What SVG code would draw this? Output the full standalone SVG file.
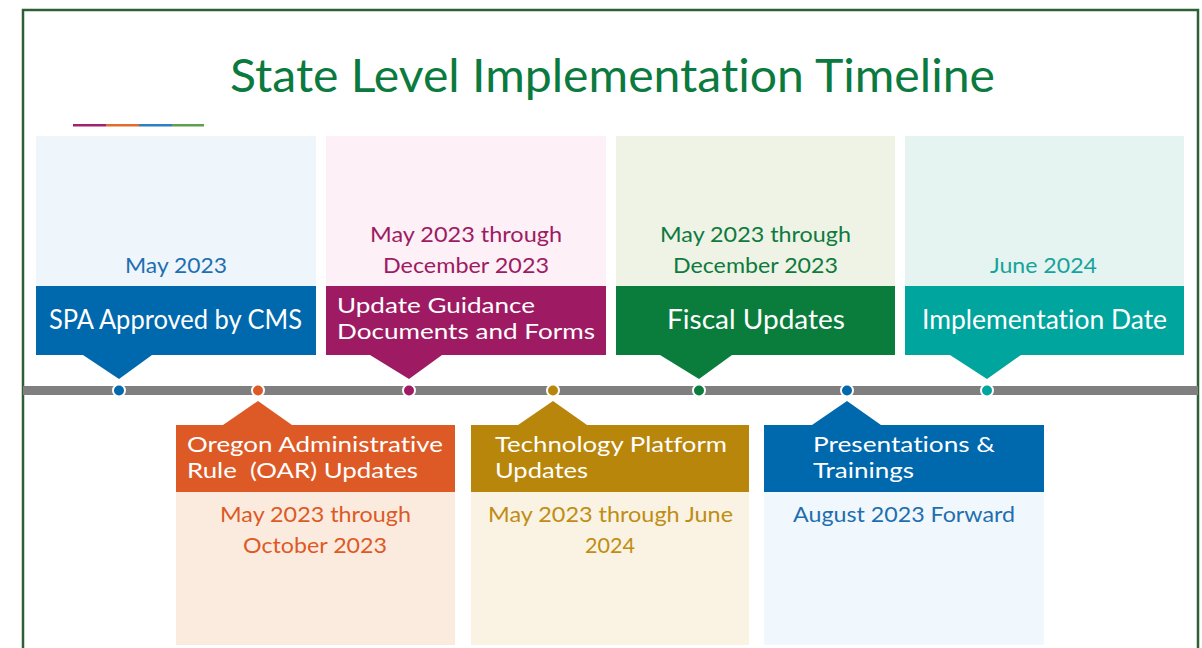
<svg xmlns="http://www.w3.org/2000/svg" width="1202" height="648" viewBox="0 0 1202 648">
<style>
text{font-family:Lato,"Open Sans","Liberation Sans",sans-serif;font-variant-ligatures:none}
.title{font-size:47px;fill:#0b7a3e}
.lbl{font-size:26px;fill:#ffffff}
.lbl2{font-size:21.5px;fill:#ffffff}
.date{font-size:22px}
.dot{stroke:#ffffff;stroke-width:2}
</style>
<rect x="0" y="0" width="1202" height="648" fill="#ffffff"/>
<rect x="23" y="10" width="1175" height="660" fill="none" stroke="#2f5f35" stroke-width="2.5"/>
<g id="title">
<text class="title" x="230" y="92" textLength="765" lengthAdjust="spacingAndGlyphs">State Level Implementation Timeline</text>
<rect x="73" y="124" width="33" height="2.5" fill="#a3236a"/>
<rect x="106" y="124" width="33" height="2.5" fill="#e06d2c"/>
<rect x="139" y="124" width="33" height="2.5" fill="#2f7fc3"/>
<rect x="172" y="124" width="32" height="2.5" fill="#5ea04e"/>
</g>
<g id="connectors">
<rect x="23" y="386" width="1175" height="9" fill="#7f7f7f"/>
<circle class="dot" cx="119" cy="390.5" r="6" fill="#0068ad"/>
<circle class="dot" cx="258" cy="390.5" r="6" fill="#dd5a26"/>
<circle class="dot" cx="409" cy="390.5" r="6" fill="#9e1b63"/>
<circle class="dot" cx="553" cy="390.5" r="6" fill="#b8860b"/>
<circle class="dot" cx="699" cy="390.5" r="6" fill="#0a7d3c"/>
<circle class="dot" cx="847" cy="390.5" r="6" fill="#0068ad"/>
<circle class="dot" cx="987" cy="390.5" r="6" fill="#00a59d"/>
</g>
<g id="node-spa">
<rect x="36" y="136" width="280" height="150" fill="#eef6fc"/>
<rect x="36" y="286" width="280" height="69" fill="#0068ad"/>
<polygon points="83,355 152,355 119,379" fill="#0068ad"/>
<text class="date" x="125" y="273" fill="#1f6fb0" textLength="102" lengthAdjust="spacingAndGlyphs">May 2023</text>
<text class="lbl" x="49" y="329" textLength="253" lengthAdjust="spacingAndGlyphs">SPA Approved by CMS</text>
</g>
<g id="node-guidance">
<rect x="326" y="136" width="280" height="150" fill="#fdf0f6"/>
<rect x="326" y="286" width="280" height="69" fill="#9e1b63"/>
<polygon points="370,355 442,355 409,379" fill="#9e1b63"/>
<text class="date" x="370" y="242" fill="#9e1b63" textLength="192" lengthAdjust="spacingAndGlyphs">May 2023 through</text>
<text class="date" x="383" y="273" fill="#9e1b63" textLength="166" lengthAdjust="spacingAndGlyphs">December 2023</text>
<text class="lbl2" x="337" y="313" textLength="198" lengthAdjust="spacingAndGlyphs">Update Guidance</text>
<text class="lbl2" x="337" y="339" textLength="258" lengthAdjust="spacingAndGlyphs">Documents and Forms</text>
</g>
<g id="node-fiscal">
<rect x="616" y="136" width="279" height="150" fill="#eef3e6"/>
<rect x="616" y="286" width="279" height="69" fill="#0a7d3c"/>
<polygon points="660,355 732,355 699,379" fill="#0a7d3c"/>
<text class="date" x="660" y="242" fill="#0f7a3e" textLength="191" lengthAdjust="spacingAndGlyphs">May 2023 through</text>
<text class="date" x="673" y="273" fill="#0f7a3e" textLength="165" lengthAdjust="spacingAndGlyphs">December 2023</text>
<text class="lbl" x="667" y="329" textLength="178" lengthAdjust="spacingAndGlyphs">Fiscal Updates</text>
</g>
<g id="node-implementation">
<rect x="905" y="136" width="279" height="150" fill="#e6f4f1"/>
<rect x="905" y="286" width="279" height="69" fill="#00a59d"/>
<polygon points="950,355 1021,355 987,379" fill="#00a59d"/>
<text class="date" x="990" y="273" fill="#16a39b" textLength="107" lengthAdjust="spacingAndGlyphs">June 2024</text>
<text class="lbl" x="922" y="329" textLength="245" lengthAdjust="spacingAndGlyphs">Implementation Date</text>
</g>
<g id="node-oar">
<rect x="176" y="492" width="279" height="153" fill="#fbebdf"/>
<rect x="176" y="425" width="279" height="67" fill="#dd5a26"/>
<polygon points="223,425 292,425 258,401" fill="#dd5a26"/>
<text class="lbl2" x="187" y="452" textLength="256" lengthAdjust="spacingAndGlyphs">Oregon Administrative</text>
<text class="lbl2" x="187" y="478" textLength="231" lengthAdjust="spacingAndGlyphs" xml:space="preserve">Rule  (OAR) Updates</text>
<text class="date" x="220" y="522" fill="#dd5a26" textLength="191" lengthAdjust="spacingAndGlyphs">May 2023 through</text>
<text class="date" x="243" y="553" fill="#dd5a26" textLength="144" lengthAdjust="spacingAndGlyphs">October 2023</text>
</g>
<g id="node-technology">
<rect x="471" y="492" width="278" height="153" fill="#faf3e3"/>
<rect x="471" y="425" width="278" height="67" fill="#b8860b"/>
<polygon points="518,425 587,425 553,401" fill="#b8860b"/>
<text class="lbl2" x="495" y="452" textLength="232" lengthAdjust="spacingAndGlyphs">Technology Platform</text>
<text class="lbl2" x="495" y="478" textLength="93" lengthAdjust="spacingAndGlyphs">Updates</text>
<text class="date" x="488" y="522" fill="#bf8d14" textLength="245" lengthAdjust="spacingAndGlyphs">May 2023 through June</text>
<text class="date" x="585" y="553" fill="#bf8d14" textLength="50" lengthAdjust="spacingAndGlyphs">2024</text>
</g>
<g id="node-presentations">
<rect x="764" y="492" width="280" height="153" fill="#f1f8fd"/>
<rect x="764" y="425" width="280" height="67" fill="#0068ad"/>
<polygon points="812,425 881,425 847,401" fill="#0068ad"/>
<text class="lbl2" x="813" y="452" textLength="182" lengthAdjust="spacingAndGlyphs">Presentations &amp;</text>
<text class="lbl2" x="813" y="478" textLength="101" lengthAdjust="spacingAndGlyphs">Trainings</text>
<text class="date" x="793" y="522" fill="#1f6fb0" textLength="222" lengthAdjust="spacingAndGlyphs">August 2023 Forward</text>
</g>
</svg>
